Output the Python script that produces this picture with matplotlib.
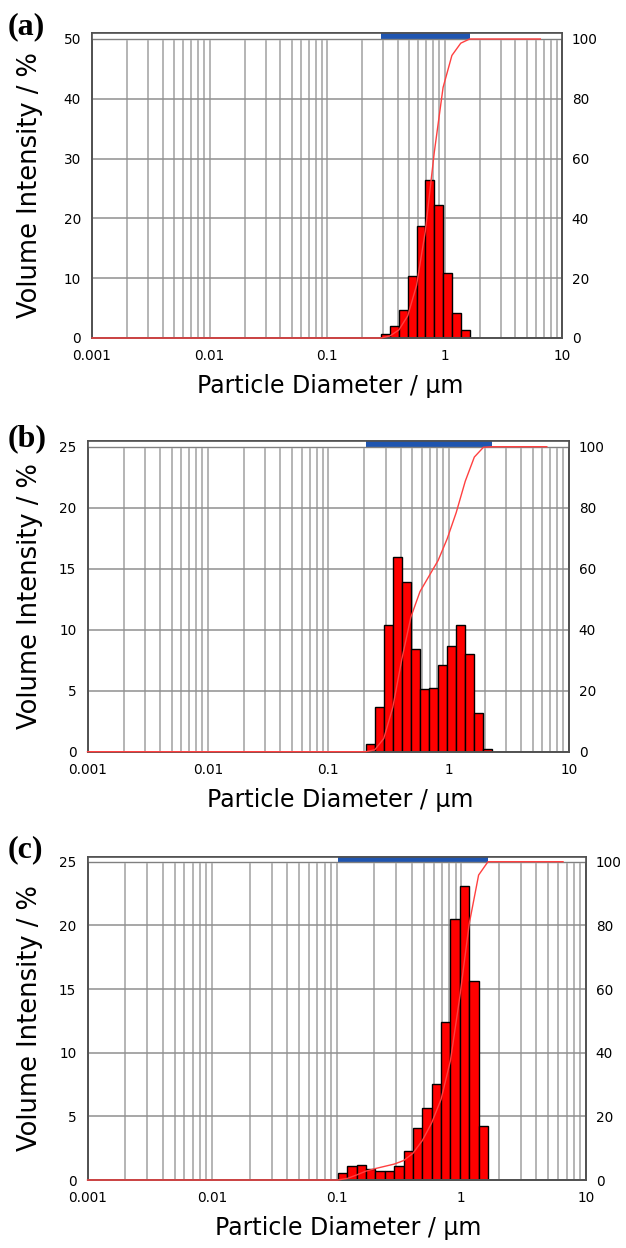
import numpy as np
import matplotlib.pyplot as plt
from matplotlib.ticker import LogLocator, NullFormatter

plt.rcParams['font.family'] = ['DejaVu Sans']

# channel edges (um), volume frequency (%) and cumulative (%)
edges_a = [0.2891, 0.3439, 0.4089, 0.4863, 0.5783, 0.6877, 0.8179, 0.9726, 1.156, 1.375, 1.635]
vol_a = [0.73, 2.06, 4.74, 10.4, 18.7, 26.5, 22.3, 10.9, 4.18, 1.39]
cum_a = [0, 0.7, 2.7, 7.4, 17.6, 35.9, 62.0, 83.8, 94.5, 98.6, 100]

edges_b = [0.2045, 0.2431, 0.2891, 0.3439, 0.4089, 0.4863, 0.5783, 0.6877, 0.8179, 0.9726,
           1.156, 1.375, 1.635, 1.945, 2.312]
vol_b = [0.6, 3.7, 10.4, 16.0, 13.9, 8.4, 5.1, 5.2, 7.1, 8.7, 10.4, 8.0, 3.2, 0.2]
cum_b = [0, 0.6, 4.3, 14.6, 30.4, 44.2, 52.5, 57.6, 62.7, 69.8, 78.4, 88.7, 96.6, 99.8, 100]

edges_c = [0.1022, 0.1216, 0.1446, 0.1719, 0.2045, 0.2431, 0.2891, 0.3439, 0.4089, 0.4863,
           0.5783, 0.6877, 0.8179, 0.9726, 1.156, 1.375, 1.635]
vol_c = [0.52, 1.13, 1.18, 0.86, 0.71, 0.71, 1.10, 2.30, 4.06, 5.68, 7.52, 12.4, 20.5, 23.1, 15.6, 4.27]
cum_c = [0, 0.5, 1.6, 2.8, 3.6, 4.3, 5.0, 6.1, 8.4, 12.4, 18.0, 25.4, 37.6, 57.7, 80.5, 95.8, 100]

d_min = 0.001
d_end = 6.54
xticks = [0.001, 0.01, 0.1, 1, 10]
xtick_labels = ['0.001', '0.01', '0.1', '1', '10']

W, H = 626, 1248
fig = plt.figure(figsize=(W / 100, H / 100), dpi=100)


def px_axes(left, top, right, bottom):
    return fig.add_axes([left / W, 1 - bottom / H, (right - left) / W, (bottom - top) / H])


def panel(box, grid_top, edges, vol, cum, ymax, ystep, letter, letter_y, xlab_x):
    left, top, right, bottom = box
    ax = px_axes(*box)
    ymax_full = ymax * (bottom - top) / (bottom - grid_top)

    ax.set_xscale('log')
    ax.set_xlim(d_min, 10)
    ax.set_ylim(0, ymax_full)
    ax.set_axisbelow(True)

    ax.bar(edges[:-1], vol, width=np.diff(edges), align='edge',
           color='#ff0000', edgecolor='black', linewidth=1.0, zorder=2)

    ax.xaxis.set_minor_locator(LogLocator(base=10, subs=np.arange(2, 10), numticks=20))
    ax.xaxis.set_minor_formatter(NullFormatter())
    ax.set_xticks(xticks, xtick_labels)
    ax.set_yticks(np.arange(0, ymax + 1, ystep))
    ax.grid(True, which='both', axis='x', color='#a0a0a0', lw=1.1)
    ax.grid(True, which='major', axis='y', color='#909090', lw=1.1)

    # strip above the plot with the blue measuring range
    ax.axhspan(ymax, ymax_full, color='white', zorder=3)
    ax.fill_between([edges[0], edges[-1]], ymax, ymax_full, color='#1f55b0', lw=0, zorder=4)
    ax.axhline(ymax, color='#808080', lw=1.0, zorder=5)

    ax.tick_params(which='both', length=0, labelsize=9.8)
    ax.tick_params(axis='y', pad=8)
    ax.tick_params(axis='x', pad=8)
    for s in ax.spines.values():
        s.set_color('#505050')
        s.set_linewidth(1.2)

    ax2 = ax.twinx()
    ax2.set_ylim(0, 100 * ymax_full / ymax)
    ax2.set_yticks(range(0, 101, 20))
    ax2.plot([d_min] + edges + [d_end], [0] + cum + [100], color='#ff4040', lw=1.0,
             clip_on=False, zorder=6)
    ax2.tick_params(length=0, labelsize=9.8, pad=7)
    for s in ax2.spines.values():
        s.set_color('#505050')
        s.set_linewidth(1.2)

    fig.text(8 / W, 1 - letter_y / H, letter, fontfamily='Liberation Serif',
             fontweight='bold', fontsize=23, ha='left', va='center')
    fig.text(30 / W, 1 - (top + bottom) / 2 / H, 'Volume Intensity / %', rotation=90,
             ha='center', va='center', fontsize=18.5)
    fig.text(xlab_x / W, 1 - (bottom + 48) / H, 'Particle Diameter / µm',
             ha='center', va='center', fontsize=17)
    return ax


panel((92, 33, 562, 338), 39, edges_a, vol_a, cum_a, 50, 10, '(a)', 27, 330)
panel((87.5, 441, 569, 751.7), 446.7, edges_b, vol_b, cum_b, 25, 5, '(b)', 439, 340)
panel((87.5, 856.7, 586, 1180), 861.7, edges_c, vol_c, cum_c, 25, 5, '(c)', 850, 348)

fig.savefig('out.png', dpi=100)
